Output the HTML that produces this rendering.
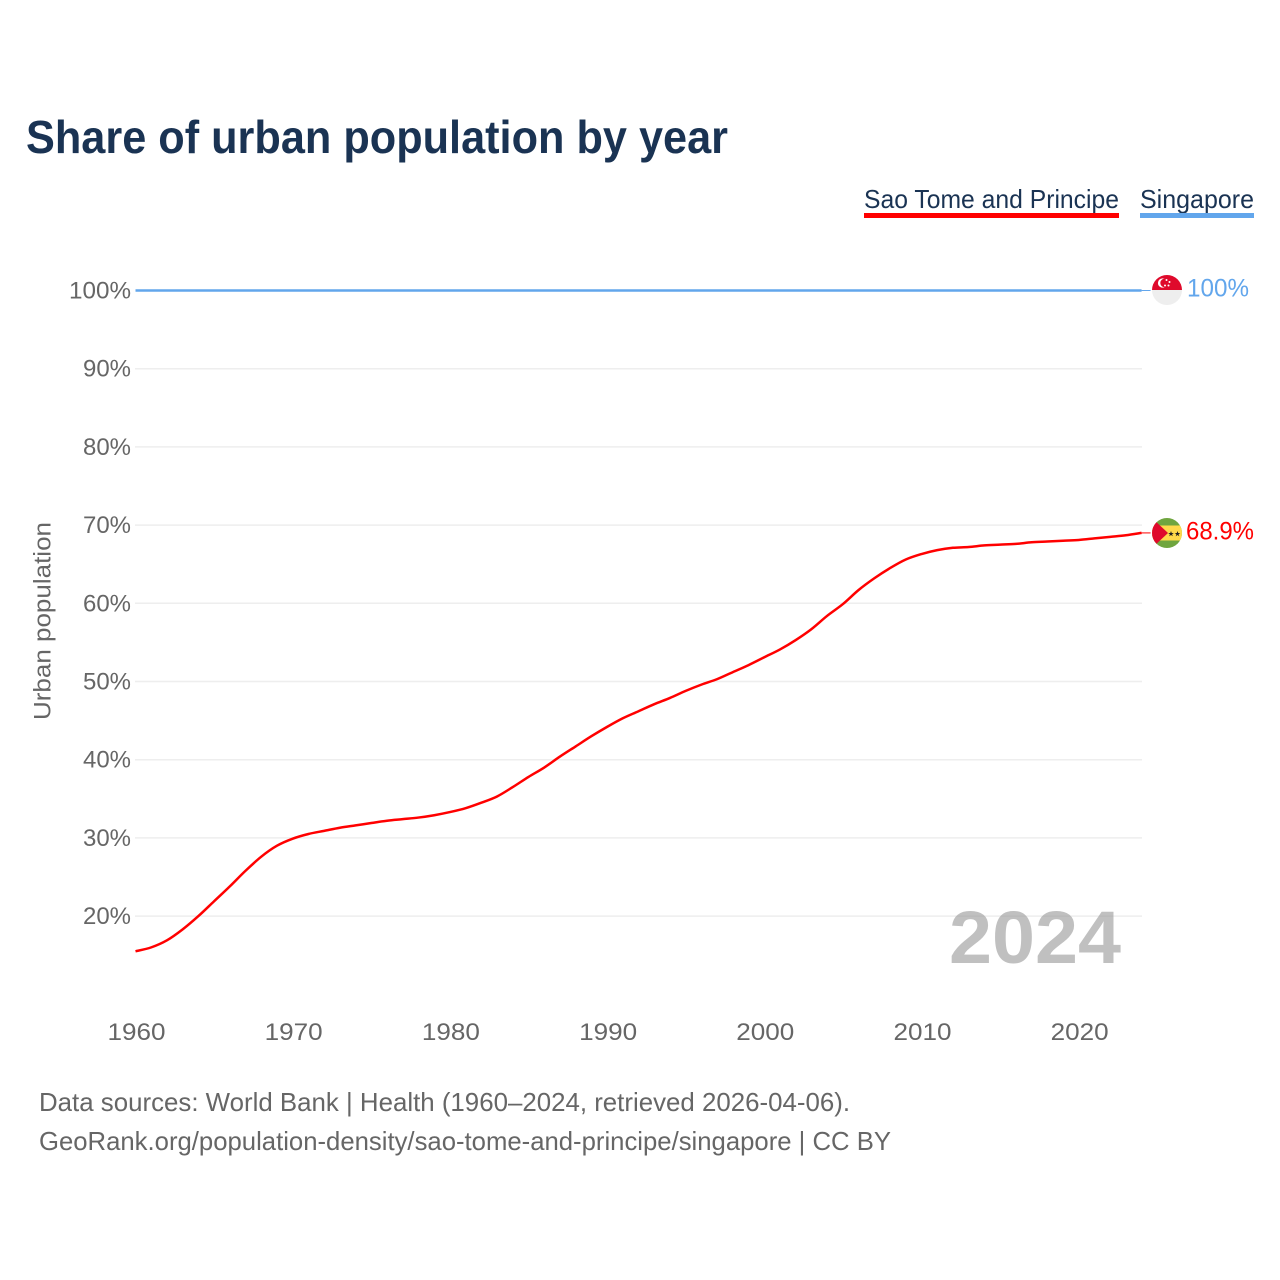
<!DOCTYPE html>
<html lang="en">
<head>
<meta charset="utf-8">
<title>Share of urban population by year</title>
<style>
html,body{margin:0;padding:0;background:#fff;width:1280px;height:1280px;overflow:hidden}
svg{display:block}
text{font-family:"Liberation Sans",sans-serif}
</style>
</head>
<body>
<svg id="chart" width="1280" height="1280" viewBox="0 0 1280 1280" xmlns="http://www.w3.org/2000/svg">
  <rect x="0" y="0" width="1280" height="1280" fill="#ffffff"/>
  <text x="26" y="153" font-size="46" font-weight="700" fill="#1a3353" textLength="702" lengthAdjust="spacingAndGlyphs">Share of urban population by year</text>

  <text x="864" y="208" font-size="26" fill="#1a3353" textLength="255" lengthAdjust="spacingAndGlyphs">Sao Tome and Principe</text>
  <rect x="864" y="213" width="255" height="5" fill="#ff0000"/>
  <text x="1140" y="208" font-size="26" fill="#1a3353" textLength="114" lengthAdjust="spacingAndGlyphs">Singapore</text>
  <rect x="1140" y="213" width="114" height="5" fill="#62a6ec"/>

  <text transform="translate(50.5 621) rotate(-90)" text-anchor="middle" font-size="24" fill="#666666" textLength="198" lengthAdjust="spacingAndGlyphs">Urban population</text>

  <g id="grid"></g>
  <g id="yticks"></g>
  <g id="xticks"></g>

  <text x="949" y="963" font-size="74" font-weight="700" fill="#9a9a9a" fill-opacity="0.62" textLength="172" lengthAdjust="spacingAndGlyphs">2024</text>

  <g id="series"></g>

  <defs>
    <clipPath id="flag-clip-sg"><circle cx="1167" cy="290" r="15"/></clipPath>
    <clipPath id="flag-clip-st"><circle cx="1167" cy="533" r="15"/></clipPath>
  </defs>

  <g clip-path="url(#flag-clip-sg)">
    <rect x="1152" y="275" width="30" height="15" fill="#df0a2c"/>
    <rect x="1152" y="290" width="30" height="15" fill="#eeeeee"/>
    <circle cx="1162.5" cy="283" r="4.6" fill="#ffffff"/>
    <circle cx="1164.5" cy="283" r="4.2" fill="#df0a2c"/>
    <circle cx="1166.5" cy="280" r="1" fill="#ffffff"/>
    <circle cx="1169.5" cy="282" r="1" fill="#ffffff"/>
    <circle cx="1168.5" cy="285.5" r="1" fill="#ffffff"/>
    <circle cx="1165" cy="285.5" r="1" fill="#ffffff"/>
  </g>
  <text id="label-sg" x="1187" y="296.5" font-size="25" fill="#62a6ec" textLength="62" lengthAdjust="spacingAndGlyphs">100%</text>

  <g clip-path="url(#flag-clip-st)">
    <rect x="1152" y="518" width="30" height="30" fill="#6fa53f"/>
    <rect x="1152" y="525.5" width="30" height="15" fill="#ffd94a"/>
    <polygon points="1152,518 1168,533 1152,548" fill="#df0a2c"/>
    <polygon points="1171,531 1171.7,533 1173.8,533 1172.1,534.2 1172.8,536.3 1171,535 1169.2,536.3 1169.9,534.2 1168.2,533 1170.3,533" fill="#222222"/>
    <polygon points="1177.5,531 1178.2,533 1180.3,533 1178.6,534.2 1179.3,536.3 1177.5,535 1175.7,536.3 1176.4,534.2 1174.7,533 1176.8,533" fill="#222222"/>
  </g>
  <text id="label-st" x="1186" y="539.5" font-size="25" fill="#ff0000" textLength="68" lengthAdjust="spacingAndGlyphs">68.9%</text>

  <text x="39" y="1111" font-size="26" fill="#666666" textLength="811" lengthAdjust="spacingAndGlyphs">Data sources: World Bank | Health (1960–2024, retrieved 2026-04-06).</text>
  <text x="39" y="1150" font-size="26" fill="#666666" textLength="852" lengthAdjust="spacingAndGlyphs">GeoRank.org/population-density/sao-tome-and-principe/singapore | CC BY</text>
</svg>
<script>
const startYear = 1960;
const yTickValues = [20, 30, 40, 50, 60, 70, 80, 90, 100];
const yTickLabels = ["20%", "30%", "40%", "50%", "60%", "70%", "80%", "90%", "100%"];
const xTickValues = [1960, 1970, 1980, 1990, 2000, 2010, 2020];
const xTickLabels = ["1960", "1970", "1980", "1990", "2000", "2010", "2020"];
const saoTomeValues = [
  15.5, 16.0, 16.9, 18.3, 20.0, 21.9, 23.8, 25.8, 27.6, 29.0,
  29.9, 30.5, 30.9, 31.3, 31.6, 31.9, 32.2, 32.4, 32.6, 32.9,
  33.3, 33.8, 34.5, 35.3, 36.5, 37.8, 39.0, 40.4, 41.7, 43.0,
  44.2, 45.3, 46.2, 47.1, 47.9, 48.8, 49.6, 50.3, 51.2, 52.1,
  53.1, 54.1, 55.3, 56.7, 58.4, 59.9, 61.7, 63.2, 64.5, 65.6,
  66.3, 66.8, 67.1, 67.2, 67.4, 67.5, 67.6, 67.8, 67.9, 68.0,
  68.1, 68.3, 68.5, 68.7, 69.0
];
const singaporeValues = [
  100, 100, 100, 100, 100, 100, 100, 100, 100, 100,
  100, 100, 100, 100, 100, 100, 100, 100, 100, 100,
  100, 100, 100, 100, 100, 100, 100, 100, 100, 100,
  100, 100, 100, 100, 100, 100, 100, 100, 100, 100,
  100, 100, 100, 100, 100, 100, 100, 100, 100, 100,
  100, 100, 100, 100, 100, 100, 100, 100, 100, 100,
  100, 100, 100, 100, 100
];

const NS = "http://www.w3.org/2000/svg";
const xScale = function (year) { return 135.5 + (year - 1960) * 15.72; };
const yScale = function (value) { return 290.5 + (100 - value) * 7.82; };

const gridGroup = document.getElementById("grid");
const yTickGroup = document.getElementById("yticks");
const xTickGroup = document.getElementById("xticks");
const seriesGroup = document.getElementById("series");

yTickValues.forEach(function (value, i) {
  if (value !== 100) {
    const line = document.createElementNS(NS, "line");
    
    
    line.setAttribute("x1", 135);
    line.setAttribute("x2", 1142);
    line.setAttribute("y1", yScale(value));
    line.setAttribute("y2", yScale(value));
    line.setAttribute("stroke", "#eeeeee");
    line.setAttribute("stroke-width", "1.5");
    gridGroup.appendChild(line);
  }
  const label = document.createElementNS(NS, "text");
  
  
  label.setAttribute("x", 131);
  label.setAttribute("y", yScale(value) + 8);
  label.setAttribute("text-anchor", "end");
  label.setAttribute("font-size", "24");
  label.setAttribute("fill", "#666666");
  label.setAttribute("textLength", value === 100 ? 62 : 48);
  label.setAttribute("lengthAdjust", "spacingAndGlyphs");
  label.textContent = yTickLabels[i];
  yTickGroup.appendChild(label);
});

xTickValues.forEach(function (year, i) {
  const label = document.createElementNS(NS, "text");
  
  
  label.setAttribute("x", xScale(year) + 1);
  label.setAttribute("y", 1040);
  label.setAttribute("text-anchor", "middle");
  label.setAttribute("font-size", "24");
  label.setAttribute("fill", "#666666");
  label.setAttribute("textLength", 58);
  label.setAttribute("lengthAdjust", "spacingAndGlyphs");
  label.textContent = xTickLabels[i];
  xTickGroup.appendChild(label);
});

function smoothPath(values) {
  const pts = values.map(function (v, i) {
    return [xScale(startYear + i), yScale(v)];
  });
  let d = "M" + pts[0][0].toFixed(2) + " " + pts[0][1].toFixed(2);
  for (let i = 0; i < pts.length - 1; i++) {
    const p0 = pts[Math.max(i - 1, 0)];
    const p1 = pts[i];
    const p2 = pts[i + 1];
    const p3 = pts[Math.min(i + 2, pts.length - 1)];
    const c1x = p1[0] + (p2[0] - p0[0]) / 6;
    const c1y = p1[1] + (p2[1] - p0[1]) / 6;
    const c2x = p2[0] - (p3[0] - p1[0]) / 6;
    const c2y = p2[1] - (p3[1] - p1[1]) / 6;
    d += "C" + c1x.toFixed(2) + " " + c1y.toFixed(2) + " " + c2x.toFixed(2) + " " + c2y.toFixed(2) + " " + p2[0].toFixed(2) + " " + p2[1].toFixed(2);
  }
  return d;
}

const singaporeLine = document.createElementNS(NS, "path");


singaporeLine.setAttribute("d", smoothPath(singaporeValues));
singaporeLine.setAttribute("fill", "none");
singaporeLine.setAttribute("stroke", "#62a6ec");
singaporeLine.setAttribute("stroke-width", "2.5");
seriesGroup.appendChild(singaporeLine);

const saoTomeLine = document.createElementNS(NS, "path");


saoTomeLine.setAttribute("d", smoothPath(saoTomeValues));
saoTomeLine.setAttribute("fill", "none");
saoTomeLine.setAttribute("stroke", "#ff0000");
saoTomeLine.setAttribute("stroke-width", "2.5");
saoTomeLine.setAttribute("stroke-linejoin", "round");
seriesGroup.appendChild(saoTomeLine);

const lastX = xScale(startYear + saoTomeValues.length - 1);

const singaporeLead = document.createElementNS(NS, "line");


singaporeLead.setAttribute("x1", lastX);
singaporeLead.setAttribute("x2", lastX + 9);
singaporeLead.setAttribute("y1", yScale(singaporeValues[singaporeValues.length - 1]));
singaporeLead.setAttribute("y2", yScale(singaporeValues[singaporeValues.length - 1]));
singaporeLead.setAttribute("stroke", "#62a6ec");
singaporeLead.setAttribute("stroke-width", "1");
seriesGroup.appendChild(singaporeLead);

const saoTomeLead = document.createElementNS(NS, "line");


saoTomeLead.setAttribute("x1", lastX);
saoTomeLead.setAttribute("x2", lastX + 9);
saoTomeLead.setAttribute("y1", yScale(saoTomeValues[saoTomeValues.length - 1]));
saoTomeLead.setAttribute("y2", yScale(saoTomeValues[saoTomeValues.length - 1]));
saoTomeLead.setAttribute("stroke", "#ff0000");
saoTomeLead.setAttribute("stroke-width", "1");
seriesGroup.appendChild(saoTomeLead);
</script>
</body>
</html>
